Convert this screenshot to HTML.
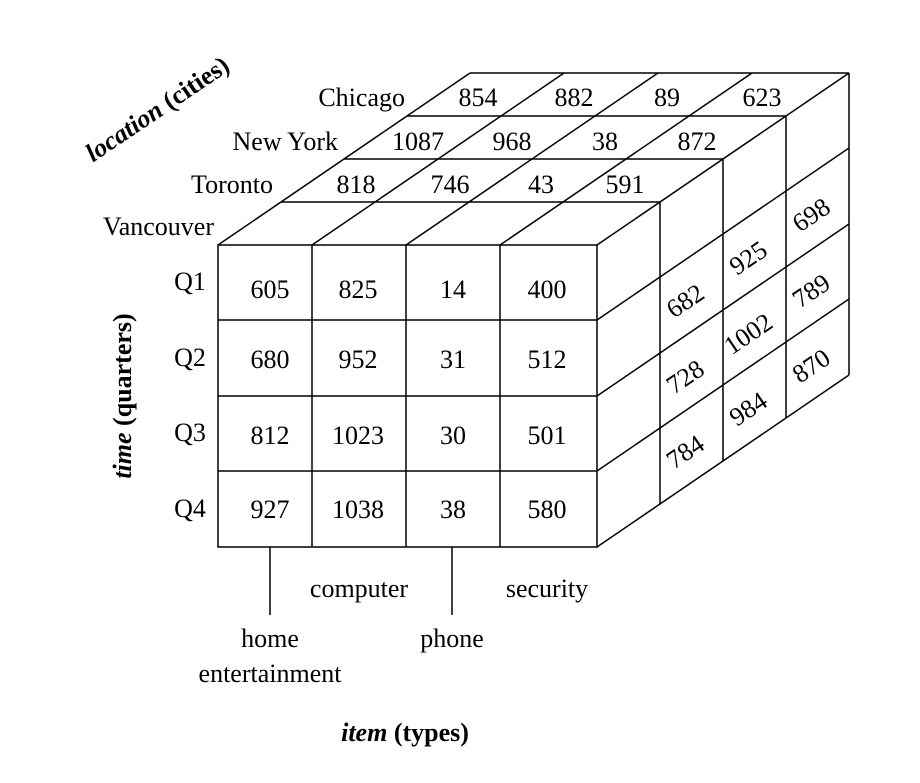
<!DOCTYPE html>
<html><head><meta charset="utf-8"><style>
html,body{margin:0;padding:0;background:#fff;}
svg text{font-family:"Liberation Serif",serif;font-size:26px;fill:#000;}
</style></head><body>
<svg width="920" height="778" viewBox="0 0 920 778" xmlns="http://www.w3.org/2000/svg">
<g stroke="#000" stroke-width="1.5" fill="none">
<rect x="218" y="245" width="379" height="302"/>
<line x1="312" y1="245" x2="312" y2="547"/>
<line x1="406" y1="245" x2="406" y2="547"/>
<line x1="500" y1="245" x2="500" y2="547"/>
<line x1="218" y1="320" x2="597" y2="320"/>
<line x1="218" y1="396" x2="597" y2="396"/>
<line x1="218" y1="471" x2="597" y2="471"/>
<line x1="281" y1="202" x2="660" y2="202"/>
<line x1="344" y1="159" x2="723" y2="159"/>
<line x1="407" y1="116" x2="786" y2="116"/>
<line x1="470" y1="73" x2="849" y2="73"/>
<line x1="218" y1="245" x2="470" y2="73"/>
<line x1="312" y1="245" x2="564" y2="73"/>
<line x1="406" y1="245" x2="658" y2="73"/>
<line x1="500" y1="245" x2="752" y2="73"/>
<line x1="597" y1="245" x2="849" y2="73"/>
<line x1="660" y1="202" x2="660" y2="504"/>
<line x1="723" y1="159" x2="723" y2="461"/>
<line x1="786" y1="116" x2="786" y2="418"/>
<line x1="849" y1="73" x2="849" y2="375"/>
<line x1="597" y1="320" x2="849" y2="148"/>
<line x1="597" y1="396" x2="849" y2="224"/>
<line x1="597" y1="471" x2="849" y2="299"/>
<line x1="597" y1="547" x2="849" y2="375"/>
<line x1="270" y1="547" x2="270" y2="615"/>
<line x1="452" y1="547" x2="452" y2="615"/>
</g>
<g text-anchor="middle">
<text x="270" y="298">605</text><text x="358" y="298">825</text><text x="453" y="298">14</text><text x="547" y="298">400</text>
<text x="270" y="368">680</text><text x="358" y="368">952</text><text x="453" y="368">31</text><text x="547" y="368">512</text>
<text x="270" y="444">812</text><text x="358" y="444">1023</text><text x="453" y="444">30</text><text x="547" y="444">501</text>
<text x="270" y="518">927</text><text x="358" y="518">1038</text><text x="453" y="518">38</text><text x="547" y="518">580</text>
<text x="356" y="193">818</text><text x="450" y="193">746</text><text x="541" y="193">43</text><text x="625" y="193">591</text>
<text x="418" y="150">1087</text><text x="512" y="150">968</text><text x="605" y="150">38</text><text x="697" y="150">872</text>
<text x="478" y="106">854</text><text x="574" y="106">882</text><text x="667" y="106">89</text><text x="762" y="106">623</text>
<text x="190" y="290">Q1</text><text x="190" y="366">Q2</text><text x="190" y="441">Q3</text><text x="190" y="517">Q4</text>
<text x="359" y="597">computer</text><text x="547" y="597">security</text>
<text x="270" y="647">home</text><text x="270" y="682">entertainment</text>
<text x="452" y="647">phone</text>
<text x="405" y="741" font-weight="bold"><tspan font-style="italic">item</tspan> (types)</text>
</g>
<g text-anchor="end">
<text x="405" y="106">Chicago</text>
<text x="338" y="150">New York</text>
<text x="273" y="193">Toronto</text>
<text x="214" y="235">Vancouver</text>
</g>
<g text-anchor="middle">
<text transform="translate(690,308) rotate(-34)">682</text>
<text transform="translate(690,384) rotate(-34)">728</text>
<text transform="translate(690,459) rotate(-34)">784</text>
<text transform="translate(753,265) rotate(-34)">925</text>
<text transform="translate(753,341) rotate(-34)">1002</text>
<text transform="translate(753,416) rotate(-34)">984</text>
<text transform="translate(816,222) rotate(-34)">698</text>
<text transform="translate(816,298) rotate(-34)">789</text>
<text transform="translate(816,373) rotate(-34)">870</text>
<text transform="translate(131,396) rotate(-90)" font-weight="bold"><tspan font-style="italic">time</tspan> (quarters)</text>
<text transform="translate(162,116) rotate(-34)" font-weight="bold"><tspan font-style="italic">location</tspan> (cities)</text>
</g>
</svg>
</body></html>
